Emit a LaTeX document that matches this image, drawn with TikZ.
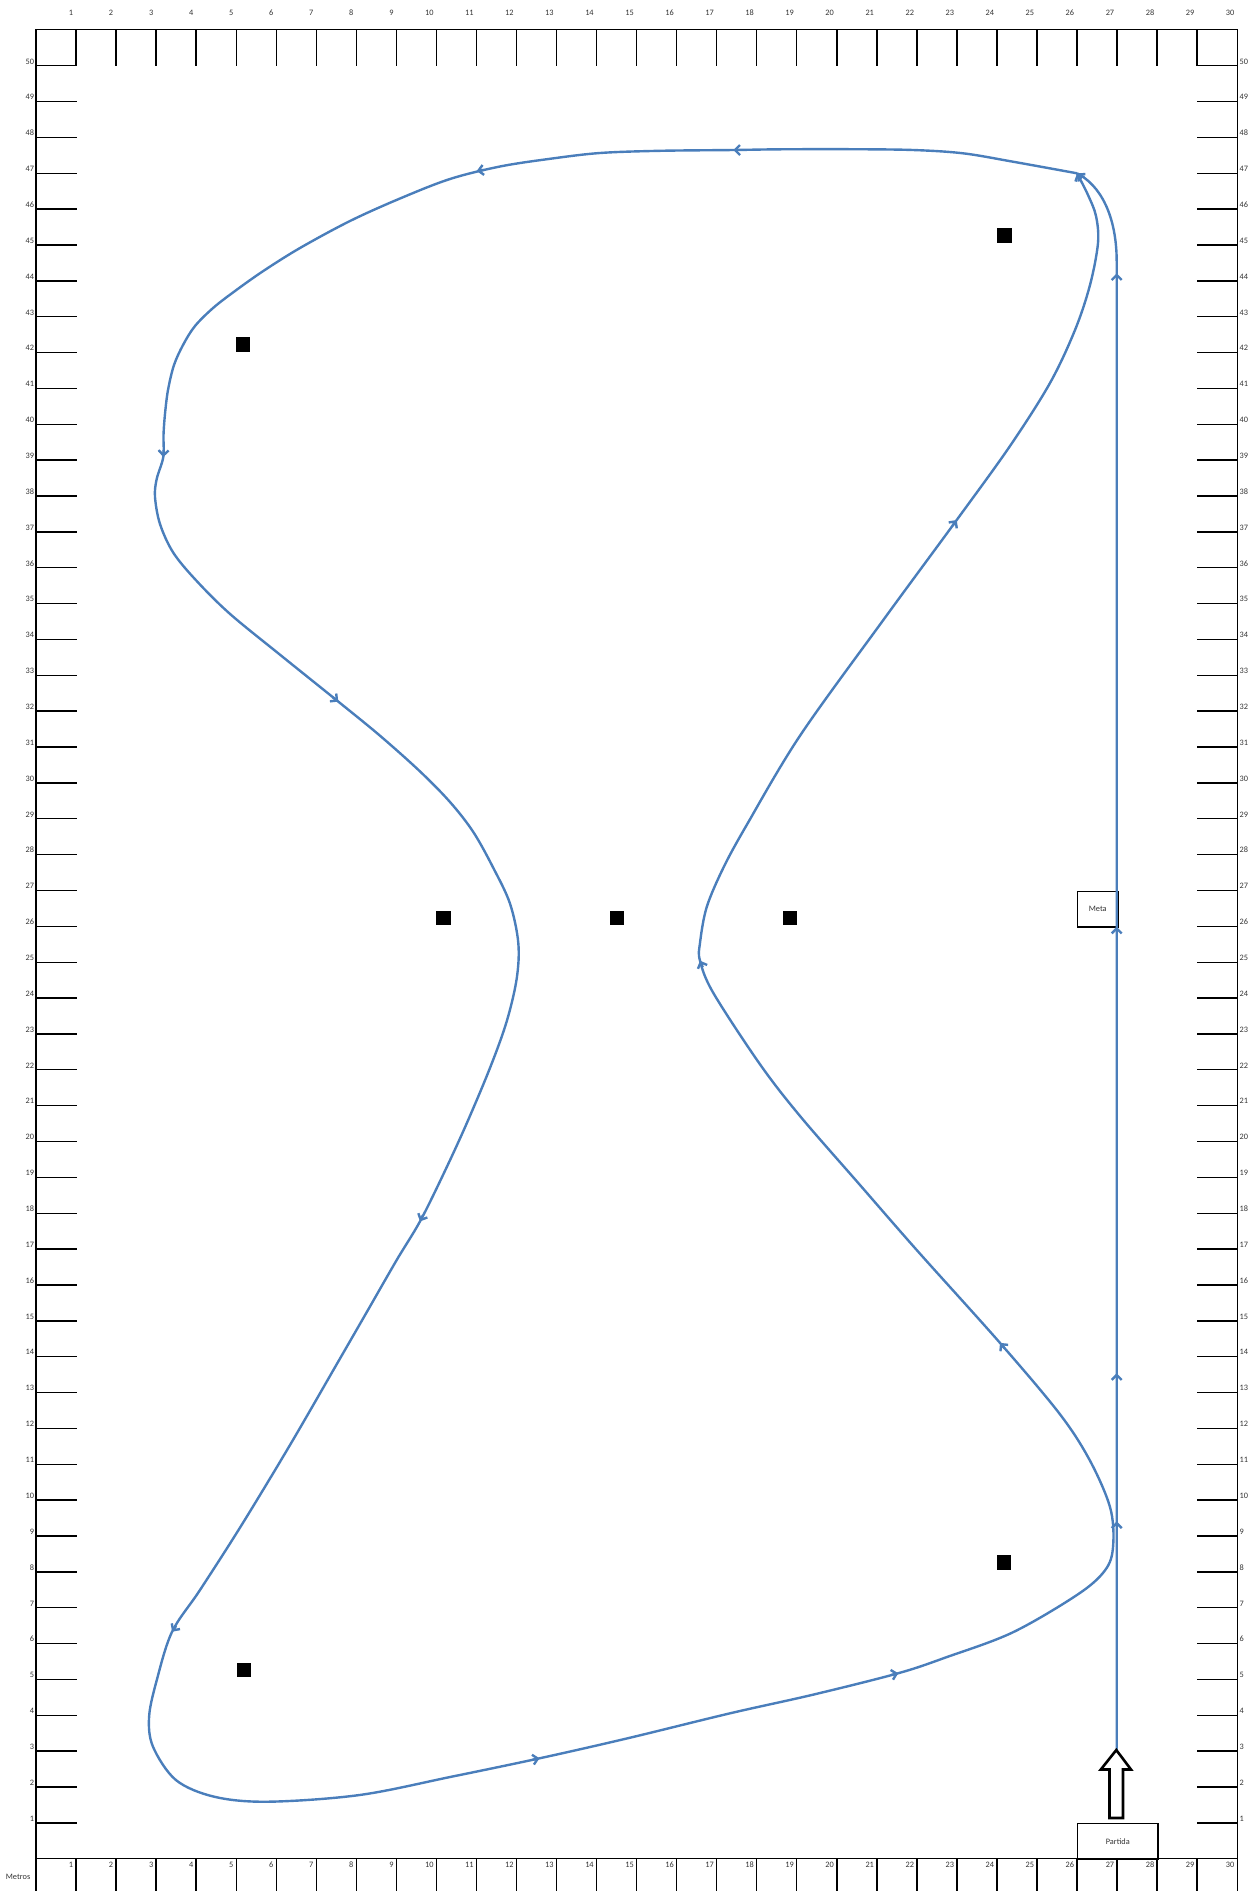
\documentclass[tikz,border=0pt]{standalone}
\usepackage{fontspec}
\setmainfont{Carlito}
\usetikzlibrary{arrows.meta}
\definecolor{routeblue}{HTML}{4A7EBB}
\begin{document}
\begin{tikzpicture}[x=1pt,y=-1pt,
  grid/.style={line width=1.4pt, draw=black},
  lbl/.style={inner sep=0pt, font=\fontsize{8.3}{9}\selectfont, text=black!80},
  route/.style={line width=2.4pt, draw=routeblue, line join=round},
  tip/.style={line width=2.4pt, draw=routeblue, -{Straight Barb[length=5pt,width=10pt]}},
  marker/.style={fill=black, draw=none, minimum size=14.4pt, inner sep=0pt},
  boxlbl/.style={draw=black, line width=1.4pt, inner sep=0pt, font=\fontsize{8.3}{9}\selectfont, text=black!80, anchor=north west}
]
\useasboundingbox (0,0) rectangle (1251,1891);
% frame
\draw[grid] (36,1891) -- (36,29.3) -- (1237.3,29.3) -- (1237.3,1891);
\draw[grid] (36,1858.7) -- (1237.3,1858.7);
% columns
\foreach \k in {1,...,30}{
  \pgfmathsetmacro\xx{36+40.04*\k}
  \ifnum\k<30
    \draw[grid] (\xx,29.3) -- (\xx,65.7);
    \draw[grid] (\xx,1858.7) -- (\xx,1891);
  \fi
  \node[lbl,anchor=base east] (ct\k) at (\xx-2.7,15) {\k};
  \node[lbl,anchor=base east] (cb\k) at (\xx-2.7,1867.7) {\k};
}
% rows
\foreach \k in {1,...,50}{
  \pgfmathsetmacro\yy{1858.7-35.86*\k}
  \draw[grid] (36,\yy) -- (76.5,\yy);
  \draw[grid] (1197,\yy) -- (1237.3,\yy);
  \node[lbl,anchor=base east] (rl\k) at (34.3,\yy-1.7) {\k};
  \node[lbl,anchor=base west] (rr\k) at (1239.5,\yy-1.7) {\k};
}
\node[lbl,anchor=base west] (metros) at (5.7,1879) {Metros};
% boxes
\node[boxlbl, minimum width=40.1pt, minimum height=35.86pt] (meta) at (1077,890.5) {Meta};
\node[boxlbl, minimum width=80.1pt, minimum height=35.9pt] (partida) at (1077,1822.8) {Partida};
% route loop
\draw[route] plot[smooth, tension=0.55] coordinates {
(1077,173.3) (1013,161.7) (963,153.3) (913,150) (850,149.2) (780,149.3) (733.3,150)
(660,150.8) (600,153) (550,158.8) (500,166.5) (450,179) (400,198.5) (350,221)
(300,248) (263.3,271) (235,291) (213.3,307.8) (195,326) (183.3,344.5) (174,365)
(168,390) (165,413.9) (163.5,435) (163.3,457)
(156.7,479) (155,497) (160,524) (173.3,552.7) (196.7,581)
(230,613.9) (280,654.7) (338.3,701.6) (380,735.7) (420,771.4) (450,802)
(473.3,832) (493.3,867.9) (510,903.6) (518.3,942.9) (516.7,978.6)
(506.7,1021.4) (490,1067.9) (466,1125) (443,1175) (420,1221.4) (396.7,1260)
(367.4,1311) (338,1362) (290,1445) (241,1526) (200,1590) (172.1,1631.7)
(156.8,1680) (149.1,1716.7) (153,1746.7) (175.9,1780) (214.2,1796.7)
(267.8,1801.7) (359.6,1795) (451.5,1776.7) (539.5,1758.3) (627.5,1738.3)
(730,1713.3) (813.3,1694.6) (898.3,1673.2) (946.7,1657.1) (1013.3,1632.1)
(1080,1592.9) (1106.7,1567.9) (1113.3,1542.9) (1110,1507) (1090,1460.7)
(1060,1414.3) (1000,1342.9) (916.7,1250) (860,1185) (800,1116) (760,1064.3)
(713.3,992.9) (700,960.7) (700,942.9) (706.7,907.1) (723.3,867.9)
(746.7,825) (800,735.7) (883.3,620) (956.7,520) (1010,446) (1050,383)
(1075,330) (1090,285) (1098,243) (1096,216) (1088,195) (1077,173.3)};
% straight from start
\draw[route] (1116.7,1750) -- (1116.7,262) .. controls (1116.7,215) and (1100,185) .. (1077,173.3);
% arrow heads
\draw[tip] (1116.7,1528) -- (1116.7,1521.4);
\draw[tip] (1116.7,1380) -- (1116.7,1373.2);
\draw[tip] (1116.7,933) -- (1116.7,926.7);
\draw[tip] (1116.7,280) -- (1116.7,273.3);
\draw[tip] (1082.2,178.0) -- (1077,173.3);
\draw[tip] (1080.1,179.6) -- (1077,173.3);
\draw[tip] (740,150) -- (733.3,150);
\draw[tip] (483.6,169.9) -- (476.7,171);
\draw[tip] (163.6,450) -- (163.3,457);
\draw[tip] (332.8,697.2) -- (338.3,701.6);
\draw[tip] (423,1215) -- (420,1221.4);
\draw[tip] (176.1,1625.9) -- (172.1,1631.7);
\draw[tip] (532.6,1759.7) -- (539.5,1758.3);
\draw[tip] (891.5,1674.9) -- (898.3,1673.2);
\draw[tip] (1004.5,1348.3) -- (1000,1342.9);
\draw[tip] (702.7,967.2) -- (700,960.7);
\draw[tip] (952.6,525.6) -- (956.7,520);
% markers
\node[marker] (m1) at (242.7,344.5) {};
\node[marker] (m2) at (1004.5,235.5) {};
\node[marker] (m3) at (443.3,917.9) {};
\node[marker] (m4) at (616.7,917.9) {};
\node[marker] (m5) at (790,917.9) {};
\node[marker] (m6) at (1004,1562.5) {};
\node[marker] (m7) at (244,1670) {};
% hollow start arrow
\draw[line width=2.6pt, draw=black, fill=white, line join=miter]
  (1116.3,1750) -- (1131,1769.5) -- (1123,1769.5) -- (1123,1818) --
  (1109.5,1818) -- (1109.5,1769.5) -- (1100.8,1769.5) -- cycle;
\end{tikzpicture}
\end{document}
